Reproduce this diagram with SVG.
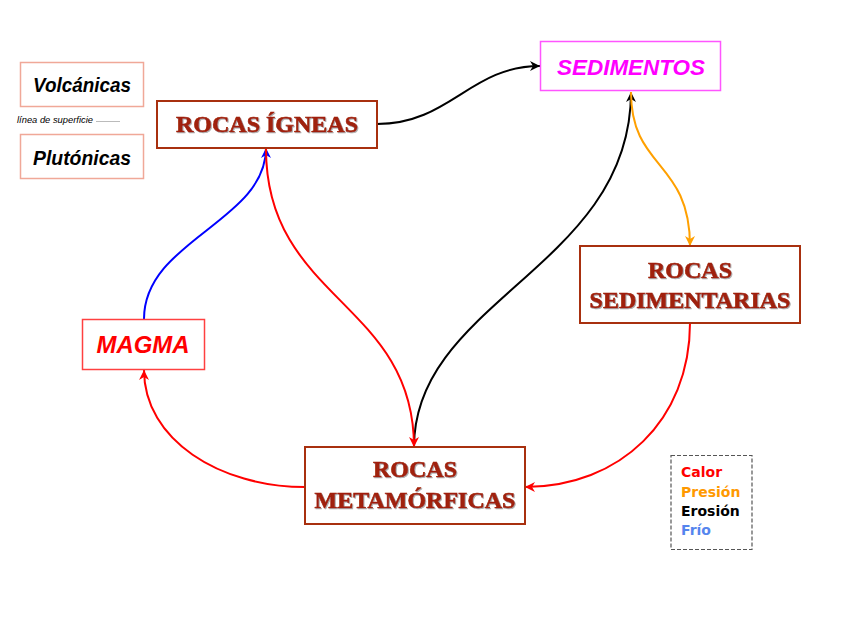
<svg xmlns="http://www.w3.org/2000/svg" width="848" height="626" viewBox="0 0 848 626">
<style>
.rock rect{fill:#fff;stroke:#a8300f;stroke-width:2}
.rock text{font-family:"Liberation Serif",serif;font-weight:bold;font-size:24px;fill:#a02008;stroke:#a02008;stroke-width:0.6;text-anchor:middle;filter:url(#sh)}
.it{font-family:"Liberation Sans",Arial,sans-serif;font-weight:bold;font-style:italic;text-anchor:middle}
.leg{font-family:"DejaVu Sans",sans-serif;font-weight:bold;font-size:14px}
.c{fill:none;stroke-width:2}
</style>
<defs>
<filter id="sh" x="-10%" y="-30%" width="120%" height="160%">
<feDropShadow dx="1" dy="1" stdDeviation="0.6" flood-color="#777" flood-opacity="0.6"/>
</filter>
<marker id="ak" markerUnits="userSpaceOnUse" markerWidth="10" markerHeight="10" refX="10" refY="5" orient="auto"><path d="M0,0 L10,5 L0,10 L3,5 z" fill="#000"/></marker>
<marker id="ar" markerUnits="userSpaceOnUse" markerWidth="10" markerHeight="10" refX="10" refY="5" orient="auto"><path d="M0,0 L10,5 L0,10 L3,5 z" fill="#ff0000"/></marker>
<marker id="ao" markerUnits="userSpaceOnUse" markerWidth="10" markerHeight="10" refX="10" refY="5" orient="auto"><path d="M0,0 L10,5 L0,10 L3,5 z" fill="#ffa000"/></marker>
<marker id="ab" markerUnits="userSpaceOnUse" markerWidth="10" markerHeight="10" refX="10" refY="5" orient="auto"><path d="M0,0 L10,5 L0,10 L3,5 z" fill="#0000ff"/></marker>
</defs>

<g id="connectors">
<path class="c" stroke="#000" marker-end="url(#ak)" d="M377,124 C450,124 470,66 540,66"/>
<path class="c" stroke="#000" marker-end="url(#ak)" d="M414,447 C414,300 631,267 631,92"/>
<path class="c" stroke="#ffa000" marker-end="url(#ao)" d="M631,92 C631,170 690,160 690,246"/>
<path class="c" stroke="#ff0000" marker-end="url(#ar)" d="M690,323 C690,420 620,487 525,487"/>
<path class="c" stroke="#ff0000" marker-end="url(#ar)" d="M305,487 C220,487 144,440 144,370"/>
<path class="c" stroke="#0000ff" marker-end="url(#ab)" d="M144,319 C144,240 266,222 266,148"/>
<path class="c" stroke="#ff0000" marker-end="url(#ar)" d="M266,149 C266,300 414,302 414,447"/>
</g>

<g id="volcanicas">
<rect x="20.5" y="62.5" width="123" height="44" fill="#fff" stroke="#f0a898" stroke-width="1.5"/>
<text class="it" x="82" y="92" font-size="20" textLength="98" lengthAdjust="spacingAndGlyphs">Volcánicas</text>
</g>
<g id="linea">
<text x="17" y="123" font-family="Liberation Sans,Arial,sans-serif" font-style="italic" font-size="9" fill="#000" textLength="76" lengthAdjust="spacingAndGlyphs">línea de superficie</text>
<line x1="96" y1="121.5" x2="120" y2="121.5" stroke="#aaa" stroke-width="0.8"/>
</g>
<g id="plutonicas">
<rect x="20.5" y="134.5" width="123" height="44" fill="#fff" stroke="#f0a898" stroke-width="1.5"/>
<text class="it" x="82" y="165" font-size="20" textLength="98" lengthAdjust="spacingAndGlyphs">Plutónicas</text>
</g>

<g id="igneas" class="rock">
<rect x="157" y="101" width="220" height="47"/>
<text x="267" y="132">ROCAS ÍGNEAS</text>
</g>

<g id="sedimentos">
<rect x="540.5" y="41.5" width="180" height="49" fill="#fff" stroke="#ff55ff" stroke-width="1.5"/>
<text class="it" x="631" y="75" font-size="22" fill="#ff00ff" textLength="148" lengthAdjust="spacingAndGlyphs">SEDIMENTOS</text>
</g>

<g id="sedimentarias" class="rock">
<rect x="580" y="246" width="220" height="77"/>
<text x="690" y="278">ROCAS</text>
<text x="690" y="308">SEDIMENTARIAS</text>
</g>

<g id="metamorficas" class="rock">
<rect x="305" y="447" width="220" height="77"/>
<text x="415" y="477">ROCAS</text>
<text x="415" y="508">METAMÓRFICAS</text>
</g>

<g id="magma">
<rect x="82.5" y="319.5" width="122" height="50" fill="#fff" stroke="#ff4040" stroke-width="1.5"/>
<text class="it" x="143" y="353" font-size="23" fill="#ff0000" textLength="93" lengthAdjust="spacingAndGlyphs">MAGMA</text>
</g>

<g id="leyenda">
<rect x="671" y="455.5" width="81" height="94" fill="#fff" stroke="#555" stroke-width="1.2" stroke-dasharray="4,2"/>
<text class="leg" x="681" y="477" fill="#ff0000">Calor</text>
<text class="leg" x="681" y="497" fill="#ff9900">Presión</text>
<text class="leg" x="681" y="516" fill="#000">Erosión</text>
<text class="leg" x="681" y="535" fill="#5585ee">Frío</text>
</g>
</svg>
